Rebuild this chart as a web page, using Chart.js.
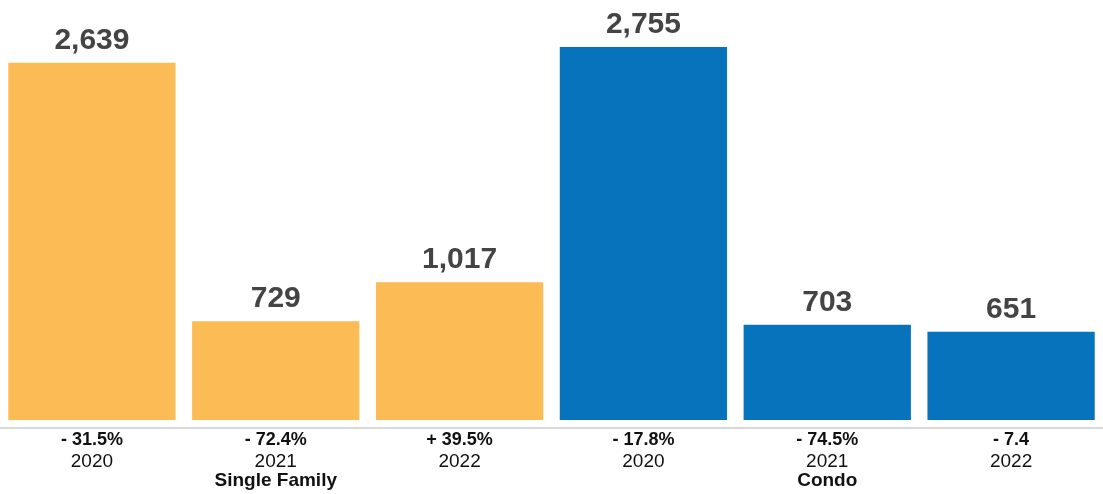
<!DOCTYPE html>
<html>
<head>
<meta charset="utf-8">
<script src="https://cdn.jsdelivr.net/npm/chart.js@4/dist/chart.umd.min.js"></script>
<style>
  html, body { margin: 0; padding: 0; background: #ffffff; }
  #wrap { width: 1103px; height: 494px; position: relative; }
</style>
</head>
<body>
<div id="wrap"><canvas id="chart"></canvas></div>
<script>
// Home sales by year, split into two property groups
const years = ['2020', '2021', '2022', '2020', '2021', '2022'];
const groupNames = ['Single Family', 'Condo'];
const groupOf = [0, 0, 0, 1, 1, 1];
const sales = [2639, 729, 1017, 2755, 703, 651];
const changes = ['- 31.5%', '- 72.4%', '+ 39.5%', '- 17.8%', '- 74.5%', '- 7.4'];
const groupColors = ['#FCBC55', '#0673BC'];

const FONT = '"Liberation Sans", Arial, Helvetica, sans-serif';

// Value labels above each bar
const valueLabels = {
  id: 'valueLabels',
  afterDatasetsDraw(chart) {
    const ctx = chart.ctx;
    const meta = chart.getDatasetMeta(0);
    ctx.save();
    ctx.font = 'bold 30px ' + FONT;
    ctx.fillStyle = '#444444';
    ctx.textAlign = 'center';
    ctx.textBaseline = 'alphabetic';
    meta.data.forEach((bar, i) => {
      ctx.fillText(sales[i].toLocaleString('en-US'), bar.x, bar.y - 14);
    });
    ctx.restore();
  }
};

// Change percentage, year and group name under the axis
const categoryLabels = {
  id: 'categoryLabels',
  afterDraw(chart) {
    const ctx = chart.ctx;
    const x = chart.scales.x;
    const base = chart.chartArea.bottom;
    ctx.save();
    ctx.fillStyle = '#111111';
    ctx.textAlign = 'center';
    ctx.textBaseline = 'alphabetic';
    years.forEach((yr, i) => {
      const px = x.getPixelForValue(i);
      ctx.font = 'bold 18px ' + FONT;
      ctx.fillText(changes[i], px, base + 17);
      ctx.font = '19px ' + FONT;
      ctx.fillText(yr, px, base + 39);
    });
    ctx.font = 'bold 19px ' + FONT;
    groupNames.forEach((name, g) => {
      const idx = groupOf.map((v, i) => v === g ? i : -1).filter(i => i >= 0);
      const mid = idx.reduce((s, i) => s + x.getPixelForValue(i), 0) / idx.length;
      ctx.fillText(name, mid, base + 58);
    });
    ctx.restore();
  }
};

new Chart(document.getElementById('chart'), {
  type: 'bar',
  data: {
    labels: years,
    datasets: [{
      data: sales,
      backgroundColor: groupOf.map(g => groupColors[g]),
      borderWidth: 0,
      barPercentage: 0.91,
      categoryPercentage: 1.0
    }]
  },
  options: {
    responsive: true,
    maintainAspectRatio: false,
    animation: false,
    layout: { padding: { top: 41, bottom: 66, left: 0, right: 0 } },
    plugins: {
      legend: { display: false },
      tooltip: { enabled: false }
    },
    scales: {
      x: {
        grid: { display: false, drawTicks: false },
        ticks: { display: false },
        border: { display: true, color: '#d9d9d9', width: 2 }
      },
      y: {
        display: false,
        min: -60,
        max: 2800
      }
    }
  },
  plugins: [valueLabels, categoryLabels]
});
</script>
</body>
</html>
